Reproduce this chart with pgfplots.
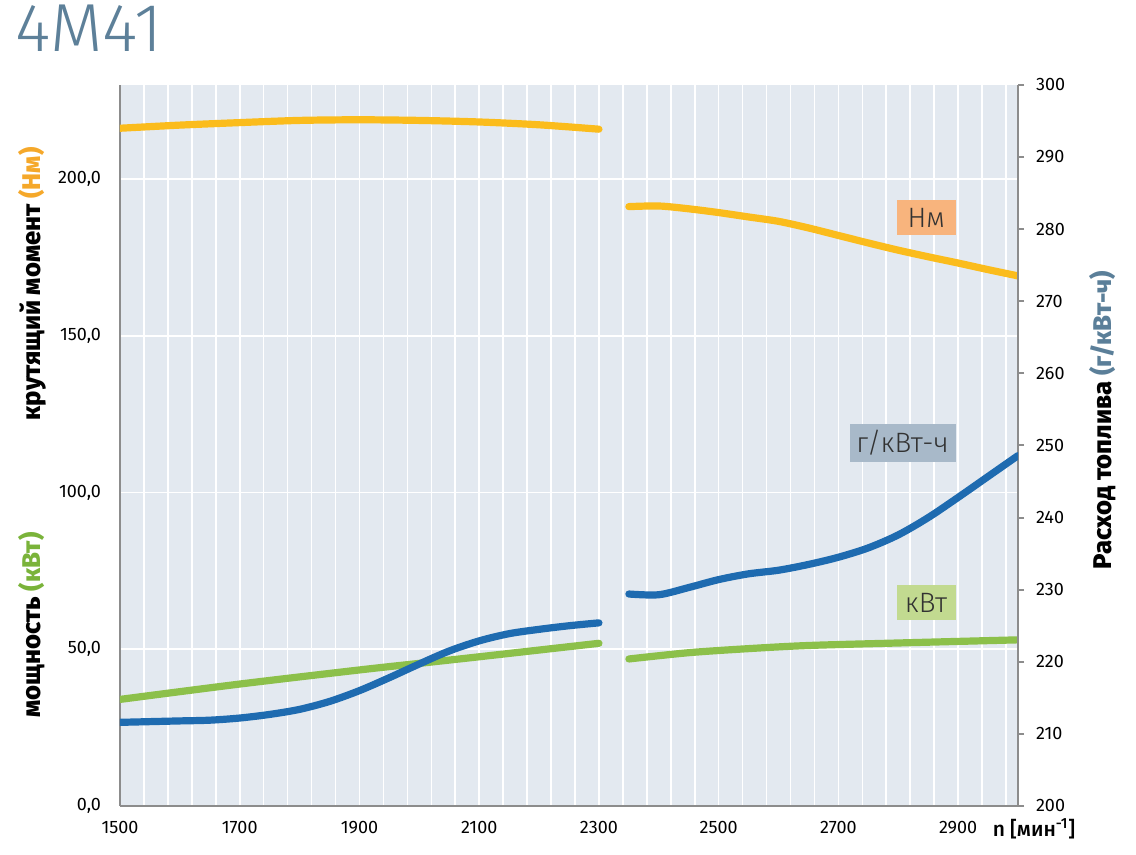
\documentclass[border=0pt]{standalone}
\usepackage{pgfplots}
\pgfplotsset{compat=1.18}
\usepackage{pgfplotstable}
\usepackage{fontspec}
\setmainfont{Fira Sans}
\newfontfamily\lightfont{Fira Sans Light}
\newfontfamily\heavyfont{Fira Sans ExtraBold}
\newfontfamily\medfont{Fira Sans Medium}
\definecolor{cyellow}{RGB}{251,188,28}
\definecolor{cblue}{RGB}{30,107,176}
\definecolor{cgreen}{RGB}{140,192,74}
\definecolor{bgcol}{RGB}{227,233,240}
\definecolor{axgrey}{RGB}{140,140,140}
\definecolor{titlecol}{RGB}{93,128,153}
\definecolor{lblorange}{RGB}{245,168,42}
\definecolor{lblgreen}{RGB}{122,179,58}
\definecolor{lblblue}{RGB}{91,127,153}
\definecolor{boxorange}{RGB}{248,180,125}
\definecolor{boxblue}{RGB}{168,185,201}
\definecolor{boxgreen}{RGB}{194,218,144}
\definecolor{boxtext}{RGB}{50,50,50}

\pgfplotstableread{
x y
1500 216.2
1600 217.2
1700 218.0
1800 218.7
1900 218.9
2000 218.7
2100 218.2
2200 217.3
2300 215.9
}\torqueA
\pgfplotstableread{
x y
2350 191.2
2400 191.4
2450 190.5
2500 189.3
2550 187.9
2600 186.5
2650 184.4
2700 182.0
2750 179.6
2800 177.3
2850 175.2
2900 173.2
2950 171.1
3000 169.1
}\torqueB
\pgfplotstableread{
x y
1500 34.0
1700 38.9
1900 43.4
2000 45.5
2100 47.6
2300 51.9
}\powerA
\pgfplotstableread{
x y
2350 46.9
2450 48.9
2550 50.2
2650 51.2
2800 52.0
3000 53.0
}\powerB
\pgfplotstableread{
x y
1500 211.6
1550 211.7
1600 211.8
1650 211.9
1700 212.2
1750 212.7
1800 213.4
1850 214.5
1900 216.0
1950 217.8
2000 219.7
2050 221.5
2100 222.9
2150 223.9
2200 224.5
2250 225.0
2300 225.4
}\fuelA
\pgfplotstableread{
x y
2350 229.4
2400 229.3
2450 230.3
2500 231.4
2550 232.2
2600 232.7
2650 233.5
2700 234.5
2750 235.8
2800 237.6
2850 240.0
2900 242.8
2950 245.7
3000 248.6
}\fuelB

\begin{document}
\begin{tikzpicture}
\useasboundingbox (-60pt,-24.5pt) rectangle (508pt,403pt);
\begin{axis}[
  width=449pt, height=360.5pt, scale only axis,
  xmin=1500, xmax=3000, ymin=0, ymax=230,
  axis x line*=bottom, axis y line*=left,
  axis line style={draw=axgrey, line width=1pt, -},
  axis background/.style={fill=bgcol},
  xtick={1500,1700,...,2900},
  minor xtick={1500,1540,...,3000},
  ytick={0,50,...,200},
  xmajorgrids, xminorgrids, ymajorgrids,
  grid style={white, line width=0.8pt},
  minor grid style={white, line width=0.8pt},
  major tick length=0pt, minor tick length=0pt,
  /pgf/number format/assume math mode=true,
  xticklabel style={font=\fontsize{9}{11}\selectfont, yshift=-4pt, /pgf/number format/1000 sep={}},
  yticklabel style={font=\fontsize{9}{11}\selectfont, xshift=-6pt,
     /pgf/number format/.cd, fixed, fixed zerofill, precision=1, use comma},
  clip=true,
]
\addplot[cyellow, line width=3.6pt, line cap=round, smooth] table[x=x,y=y] {\torqueA};
\addplot[cyellow, line width=3.6pt, line cap=round, smooth] table[x=x,y=y] {\torqueB};
\addplot[cgreen, line width=3.6pt, line cap=round, smooth] table[x=x,y=y] {\powerA};
\addplot[cgreen, line width=3.6pt, line cap=round, smooth] table[x=x,y=y] {\powerB};
\end{axis}
\begin{axis}[
  width=449pt, height=360.5pt, scale only axis,
  xmin=1500, xmax=3000, ymin=200, ymax=300,
  axis x line=none, axis y line*=right,
  axis line style={draw=axgrey, line width=1pt, -},
  ytick={200,210,...,300},
  tick align=outside, major tick length=3pt,
  tick style={axgrey, line width=1pt},
  /pgf/number format/assume math mode=true,
  yticklabel style={font=\fontsize{9}{11}\selectfont, xshift=2.5pt},
  clip=true,
]
\addplot[cblue, line width=3.6pt, line cap=round, smooth] table[x=x,y=y] {\fuelA};
\addplot[cblue, line width=3.6pt, line cap=round, smooth] table[x=x,y=y] {\fuelB};
\end{axis}
% title
\node[anchor=base west, inner sep=0pt, text=titlecol, font=\lightfont\fontsize{34}{38}\selectfont] at (-52.5pt,377pt) {4M41};
% axis labels
\node[rotate=90, inner sep=0pt, font=\heavyfont\fontsize{12.8}{14}\selectfont] at (-44pt,261pt) {крутящий момент \textcolor{lblorange}{(Нм)}};
\node[rotate=90, inner sep=0pt, font=\heavyfont\fontsize{12.8}{14}\selectfont] at (-44pt,90.5pt) {мощность \textcolor{lblgreen}{(кВт)}};
\node[rotate=90, inner sep=0pt, font=\heavyfont\fontsize{12.8}{14}\selectfont] at (491.5pt,193pt) {Расход топлива \textcolor{lblblue}{(г/кВт-ч)}};
\node[inner sep=0pt, font=\medfont\fontsize{10.5}{12}\selectfont] at (457pt,-11.5pt) {n [мин\textsuperscript{-1}]};
% boxed series labels
\node[anchor=east, fill=boxorange, text=boxtext, minimum width=29.5pt, minimum height=17.5pt, inner xsep=3pt, font=\lightfont\fontsize{14}{16}\selectfont] at (418pt,294.25pt) {Нм};
\node[anchor=east, fill=boxblue, text=boxtext, minimum width=53pt, minimum height=17pt, inner xsep=3pt, font=\lightfont\fontsize{14}{16}\selectfont] at (418pt,181.5pt) {г/кВт-ч};
\node[anchor=east, fill=boxgreen, text=boxtext, minimum width=29.5pt, minimum height=17.5pt, inner xsep=3pt, font=\lightfont\fontsize{14}{16}\selectfont] at (418pt,101.75pt) {кВт};
\end{tikzpicture}
\end{document}
